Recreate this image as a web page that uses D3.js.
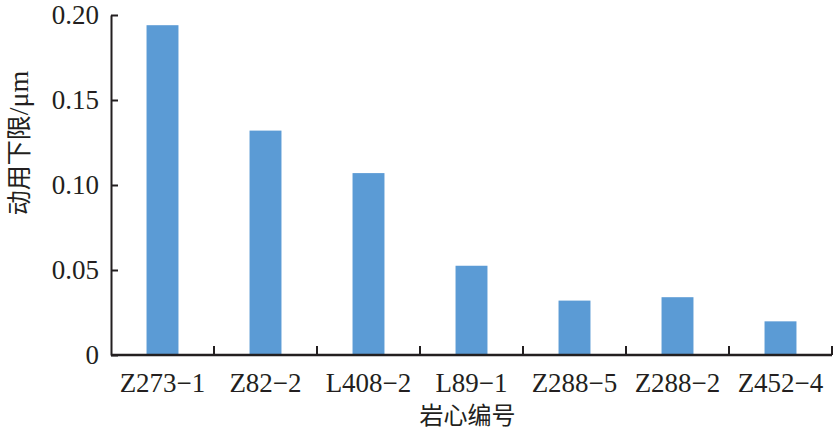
<!DOCTYPE html>
<meta charset="utf-8">
<html>
<head>
    <title>动用下限</title>
    <script src="https://d3js.org/d3.v7.min.js"></script>
    <style>
        body { margin: 0; background: #fff; }
        .tick text, .lbl { font-family: "Liberation Serif", "Times New Roman", serif; fill: #231f20; }
        .cjk { font-family: "Noto Sans CJK SC", "Liberation Serif", serif; fill: #231f20; }
    </style>
</head>
<body>
<div id="chart"></div>
<script>
    // samples and lower limit of producible pore throat (μm)
    var cores = ["Z273−1", "Z82−2", "L408−2", "L89−1", "Z288−5", "Z288−2", "Z452−4"];
    var limits = [0.194, 0.132, 0.107, 0.0525, 0.032, 0.034, 0.0198];
    var yTicks = [0, 0.05, 0.10, 0.15, 0.20];
    var yTickLabels = ["0", "0.05", "0.10", "0.15", "0.20"];

    var W = 837, H = 432;
    var margin = { top: 15, right: 5, bottom: 77, left: 111 };
    var width = W - margin.left - margin.right,
        height = H - margin.top - margin.bottom;

    var svg = d3.select("#chart").append("svg")
        .attr("width", W)
        .attr("height", H);
    var g = svg.append("g")
        .attr("transform", "translate(" + margin.left + "," + margin.top + ")");

    var x = d3.scaleBand().domain(cores).range([0, width]).padding(0);
    var y = d3.scaleLinear().domain([0, 0.20]).range([height, 0]);
    var barW = x.bandwidth() * 0.31;

    g.selectAll(".bar")
        .data(limits)
        .enter().append("rect")
        .attr("class", "bar")
        .attr("x", function (d, i) { return x(cores[i]) + (x.bandwidth() - barW) / 2; })
        .attr("y", function (d) { return y(d); })
        .attr("width", barW)
        .attr("height", function (d) { return height - y(d); })
        .style("fill", "#5b9bd5");

    // y axis, ticks point inward
    var yAxis = g.append("g")
        .call(d3.axisRight(y).tickValues(yTicks).tickSize(7).tickSizeOuter(0)
            .tickFormat(function (d, i) { return yTickLabels[i]; }));
    yAxis.select(".domain").attr("stroke", "#231f20").attr("stroke-width", 2);
    yAxis.selectAll(".tick line").attr("stroke", "#231f20").attr("stroke-width", 2);
    yAxis.selectAll(".tick text")
        .attr("x", -12)
        .attr("text-anchor", "end")
        .style("font-size", "27px");

    // x axis, separator ticks between categories
    var xAxis = g.append("g").attr("transform", "translate(0," + height + ")");
    xAxis.append("line")
        .attr("x1", 0).attr("x2", width)
        .attr("stroke", "#231f20").attr("stroke-width", 2.5);
    xAxis.selectAll(".sep")
        .data(cores)
        .enter().append("line")
        .attr("class", "sep")
        .attr("x1", function (d) { return x(d) + x.bandwidth(); })
        .attr("x2", function (d) { return x(d) + x.bandwidth(); })
        .attr("y1", 0).attr("y2", -9)
        .attr("stroke", "#231f20").attr("stroke-width", 2);
    xAxis.selectAll(".lbl")
        .data(cores)
        .enter().append("text")
        .attr("class", "lbl")
        .attr("x", function (d) { return x(d) + x.bandwidth() / 2; })
        .attr("y", 37)
        .attr("text-anchor", "middle")
        .style("font-size", "27px")
        .text(function (d) { return d; });

    svg.append("text")
        .attr("class", "cjk")
        .attr("x", margin.left + width / 2 - 4)
        .attr("y", 424)
        .attr("text-anchor", "middle")
        .style("font-size", "24px")
        .text("岩心编号");

    var yt = svg.append("text")
        .attr("transform", "translate(28,143) rotate(-90)")
        .attr("text-anchor", "middle")
        .style("font-size", "25px");
    yt.append("tspan").attr("class", "cjk").text("动用下限");
    yt.append("tspan").attr("class", "lbl").style("font-size", "28px").text("/μm");
</script>
</body>
</html>
